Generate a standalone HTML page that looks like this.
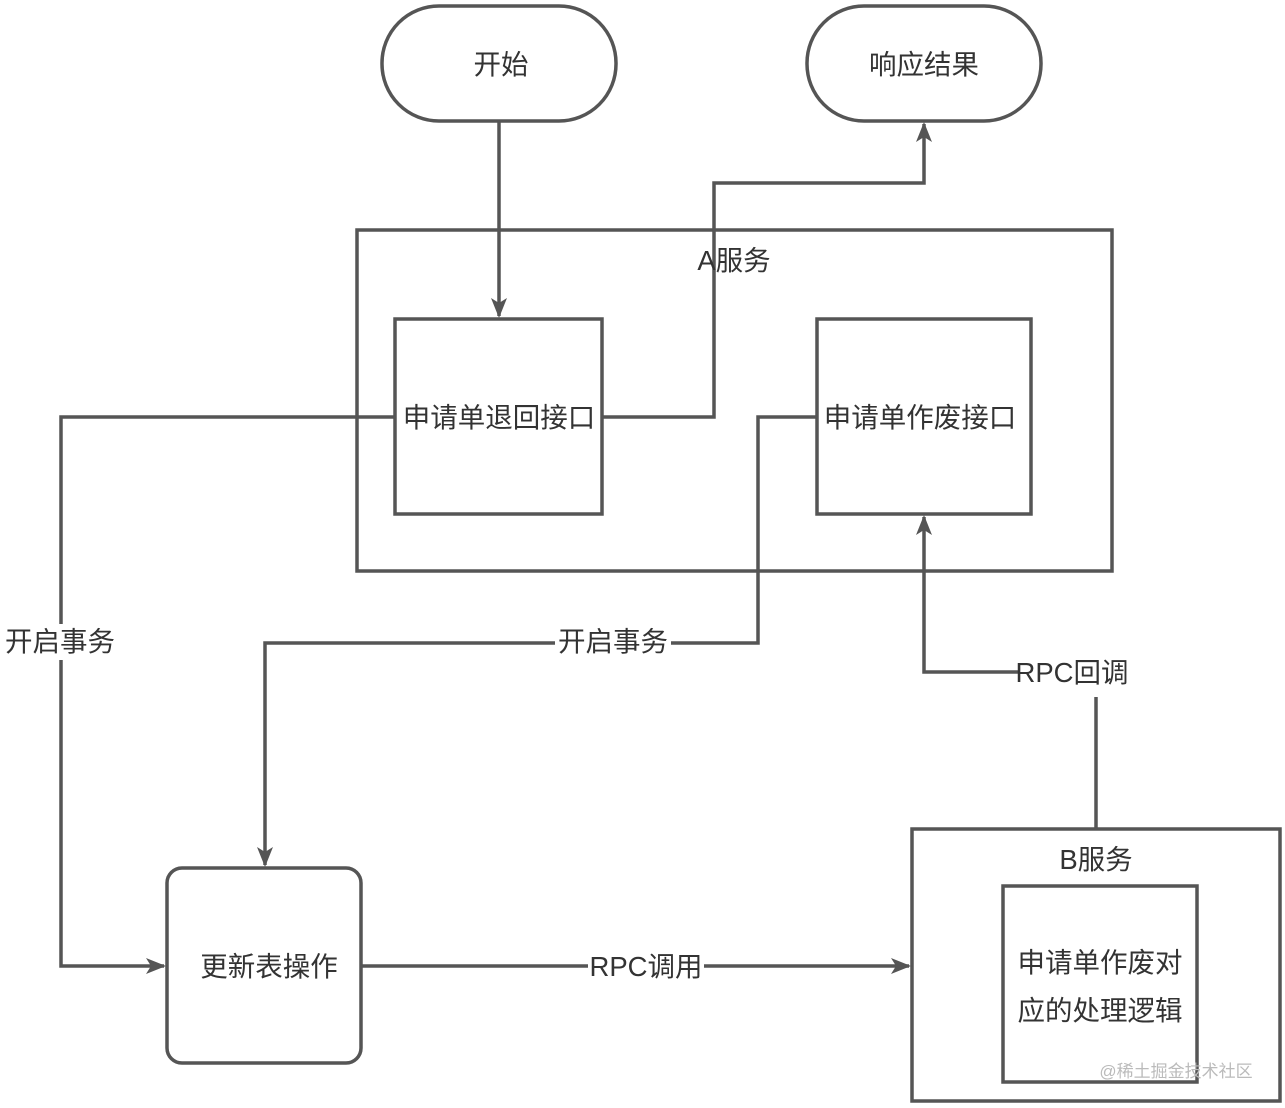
<!DOCTYPE html>
<html><head><meta charset="utf-8"><style>
html,body{margin:0;padding:0;background:#fff;}
svg{display:block;}
text{font-family:"Liberation Sans","Noto Sans CJK SC",sans-serif;fill:#333;font-size:27.5px;}
</style></head><body>
<svg width="1285" height="1108" viewBox="0 0 1285 1108" xmlns="http://www.w3.org/2000/svg">
<defs>
<marker id="b" markerWidth="20" markerHeight="16" refX="18" refY="8" orient="auto" markerUnits="userSpaceOnUse">
<path d="M0,0 L20,8 L0,16 L5,8 z" fill="#555"/>
</marker>
</defs>
<g fill="none" stroke="#555" stroke-width="3.5">
<rect x="382" y="6" width="234" height="115" rx="57"/>
<rect x="807" y="6" width="234" height="115" rx="57"/>
<rect x="357" y="230" width="755" height="341"/>
<rect x="395" y="319" width="207" height="195"/>
<rect x="817" y="319" width="214" height="195"/>
<rect x="167" y="868" width="194" height="195" rx="15"/>
<rect x="912" y="829" width="368" height="272"/>
<rect x="1003" y="886" width="194" height="196"/>
<polyline points="499,121 499,316" marker-end="url(#b)"/>
<polyline points="602,417 714,417 714,183 924,183 924,124" marker-end="url(#b)"/>
<polyline points="395,417 61,417 61,966 164,966" marker-end="url(#b)"/>
<polyline points="817,417 758,417 758,643 265,643 265,865" marker-end="url(#b)"/>
<polyline points="361,966 909,966" marker-end="url(#b)"/>
<polyline points="1096,829 1096,697"/>
<polyline points="1018,672 924,672 924,517" marker-end="url(#b)"/>
</g>
<g text-anchor="middle">
<text x="501" y="74">开始</text>
<text x="924" y="74">响应结果</text>
<text x="734" y="270">A服务</text>
<text x="499" y="427">申请单退回接口</text>
<text x="920" y="427">申请单作废接口</text>
<text x="269" y="976">更新表操作</text>
<text x="1096" y="869">B服务</text>
<text x="1100" y="972">申请单作废对</text>
<text x="1100" y="1020">应的处理逻辑</text>
<rect x="2" y="624" width="116" height="36" fill="#fff"/>
<text x="60" y="651">开启事务</text>
<rect x="555" y="624" width="116" height="36" fill="#fff"/>
<text x="613" y="651">开启事务</text>
<rect x="588" y="948" width="116" height="36" fill="#fff"/>
<text x="646" y="976">RPC调用</text>
<text x="1072" y="682">RPC回调</text>
<text x="1176" y="1077" style="font-size:17px;fill:#bbb">@稀土掘金技术社区</text>
</g>
</svg>
</body></html>
